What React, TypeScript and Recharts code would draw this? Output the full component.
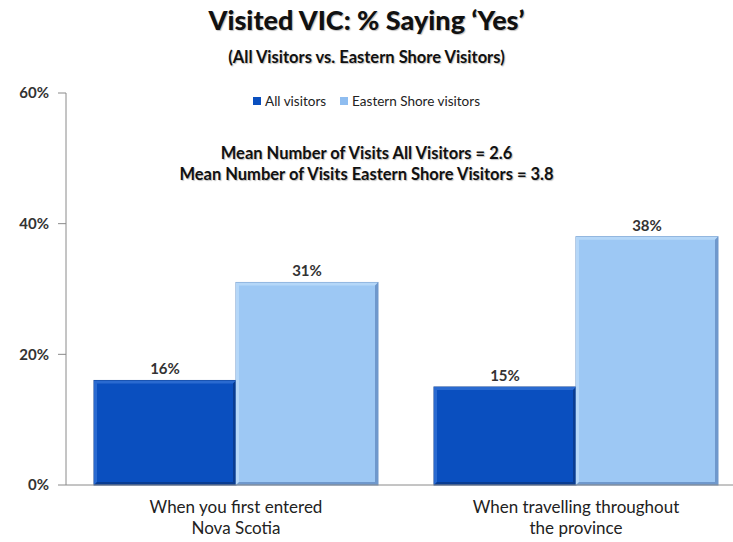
import { BarChart, Bar, XAxis, YAxis, LabelList } from 'recharts'

const categories = ['When you first entered|Nova Scotia', 'When travelling throughout|the province']
const allVisitors = [16, 15]
const easternShore = [31, 38]
const yTicks = [0, 20, 40, 60]
const meanLines = ['Mean Number of Visits All Visitors = 2.6', 'Mean Number of Visits Eastern Shore Visitors = 3.8']

const data = categories.map((c, i) => ({ cat: c, all: allVisitors[i], east: easternShore[i] }))

const FONT = 'Lato, "Open Sans", sans-serif'
const shadow = '1px 1px 1px rgba(0,0,0,0.25)'

function BevelBar(props: any) {
  const { x, y, width, height, fill, light, dark } = props
  if (!height || height <= 0) return null
  const b = 3
  return (
    <g>
      <rect x={x} y={y} width={width} height={height} fill={fill} stroke={dark} strokeWidth={1} />
      <polygon points={`${x},${y} ${x + width},${y} ${x + width - b},${y + b} ${x + b},${y + b} ${x + b},${y + height - b} ${x},${y + height}`} fill={light} />
      <polygon points={`${x + width},${y} ${x + width},${y + height} ${x},${y + height} ${x + b},${y + height - b} ${x + width - b},${y + height - b} ${x + width - b},${y + b}`} fill={dark} />
    </g>
  )
}

function CatTick({ x, y, payload }: any) {
  const lines = String(payload.value).split('|')
  return (
    <text x={x} y={y + 20} textAnchor="middle" fontFamily={FONT} fontSize={17} fill="#222">
      {lines.map((l, i) => (
        <tspan key={i} x={x} dy={i === 0 ? 0 : 21}>{l}</tspan>
      ))}
    </text>
  )
}

const legendItems = [
  { label: 'All visitors', color: '#0a4fbf' },
  { label: 'Eastern Shore visitors', color: '#8fbdf0' },
]

export default function App() {
  return (
    <div style={{ position: 'absolute', top: 0, left: 0, width: 733, height: 542, overflow: 'hidden', background: '#fff' }}>
      <div style={{ position: 'absolute', top: 3, left: 0, width: 733, textAlign: 'center', fontFamily: FONT, fontWeight: 900, fontSize: 27, color: '#111', textShadow: shadow }}>
        Visited VIC: % Saying ‘Yes’
      </div>
      <div style={{ position: 'absolute', top: 47, left: 0, width: 733, textAlign: 'center', fontFamily: FONT, fontWeight: 700, fontSize: 16.5, color: '#111', textShadow: shadow }}>
        (All Visitors vs. Eastern Shore Visitors)
      </div>
      <div style={{ position: 'absolute', top: 93, left: 0, width: 733, display: 'flex', justifyContent: 'center', gap: 14, fontFamily: FONT, fontSize: 13.5, color: '#222' }}>
        {legendItems.map(it => (
          <span key={it.label} style={{ display: 'flex', alignItems: 'center', gap: 4 }}>
            <span style={{ width: 8, height: 8, background: it.color, display: 'inline-block' }} />
            {it.label}
          </span>
        ))}
      </div>
      <BarChart width={746} height={542} data={data} margin={{ top: 93, right: 0, left: 0, bottom: 0 }} barGap={0} barCategoryGap={28}>
        <XAxis dataKey="cat" height={57} tick={<CatTick />} tickLine={false} axisLine={{ stroke: '#8a8a8a' }} interval={0} />
        <YAxis domain={[0, 60]} ticks={yTicks} width={66} tickFormatter={v => `${v}%`} tickLine={{ stroke: '#8a8a8a' }} tickSize={8} tickMargin={9} axisLine={{ stroke: '#8a8a8a' }} tick={{ fontFamily: FONT, fontSize: 15, fontWeight: 700, fill: '#333' }} />
        <Bar dataKey="all" name="All visitors" fill="#0a4fbf" isAnimationActive={false} shape={(p: any) => <BevelBar {...p} fill="#0a4fbf" light="#2a6ad0" dark="#083c92" />}>
          <LabelList dataKey="all" position="top" offset={6} formatter={(v: any) => `${v}%`} style={{ fontFamily: FONT, fontSize: 15, fontWeight: 700, fill: '#333' }} />
        </Bar>
        <Bar dataKey="east" name="Eastern Shore visitors" fill="#9dc8f4" isAnimationActive={false} shape={(p: any) => <BevelBar {...p} fill="#9dc8f4" light="#b5d7f8" dark="#6f98cc" />}>
          <LabelList dataKey="east" position="top" offset={6} formatter={(v: any) => `${v}%`} style={{ fontFamily: FONT, fontSize: 15, fontWeight: 700, fill: '#333' }} />
        </Bar>
      </BarChart>
      <div style={{ position: 'absolute', top: 143, left: 0, width: 733, textAlign: 'center', fontFamily: FONT, fontWeight: 700, fontSize: 16.5, lineHeight: '21px', color: '#111', textShadow: shadow }}>
        {meanLines.map(l => <div key={l}>{l}</div>)}
      </div>
    </div>
  )
}
